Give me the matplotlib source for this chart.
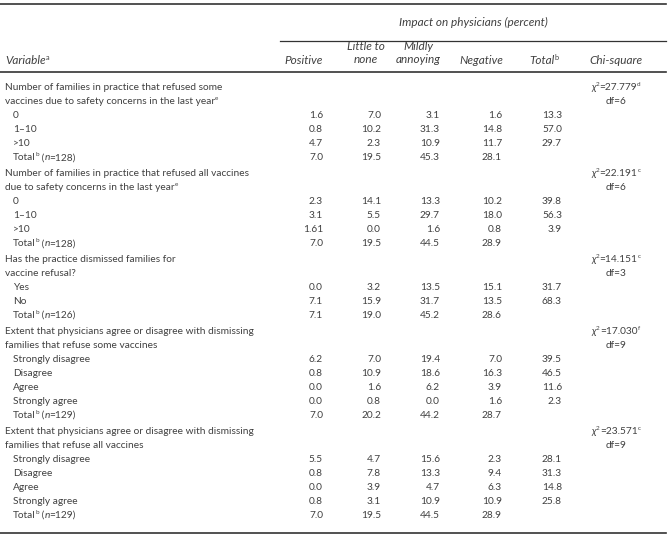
import matplotlib
matplotlib.use("Agg")
import matplotlib.pyplot as plt

# === Police ===
plt.rcParams["font.family"] = ["Lato", "DejaVu Sans"]

TXT = "#404040"
FS = 7.3
FS_HEAD = 8.5
FS_SUP = 4.6

# === Données ===
groupes = ["Positive", "Little to\nnone", "Mildly\nannoying", "Negative"]

titre1 = ["Number of families in practice that refused some",
          "vaccines due to safety concerns in the last year"]
lignes1 = ["0", "1–10", ">10", "Total"]
n1 = 128
pos1 = [1.6, 0.8, 4.7, 7.0]
peu1 = [7.0, 10.2, 2.3, 19.5]
agace1 = [3.1, 31.3, 10.9, 45.3]
neg1 = [1.6, 14.8, 11.7, 28.1]
tot1 = [13.3, 57.0, 29.7, None]
chi1 = ["27.779", "d", "6"]

titre2 = ["Number of families in practice that refused all vaccines",
          "due to safety concerns in the last year"]
lignes2 = ["0", "1–10", ">10", "Total"]
n2 = 128
pos2 = [2.3, 3.1, 1.61, 7.0]
peu2 = [14.1, 5.5, 0.0, 19.5]
agace2 = [13.3, 29.7, 1.6, 44.5]
neg2 = [10.2, 18.0, 0.8, 28.9]
tot2 = [39.8, 56.3, 3.9, None]
chi2 = ["22.191", "c", "6"]

titre3 = ["Has the practice dismissed families for",
          "vaccine refusal?"]
lignes3 = ["Yes", "No", "Total"]
n3 = 126
pos3 = [0.0, 7.1, 7.1]
peu3 = [3.2, 15.9, 19.0]
agace3 = [13.5, 31.7, 45.2]
neg3 = [15.1, 13.5, 28.6]
tot3 = [31.7, 68.3, None]
chi3 = ["14.151", "c", "3"]

echelle = ["Strongly disagree", "Disagree", "Agree", "Strongly agree", "Total"]

titre4 = ["Extent that physicians agree or disagree with dismissing",
          "families that refuse some vaccines"]
n4 = 129
pos4 = [6.2, 0.8, 0.0, 0.0, 7.0]
peu4 = [7.0, 10.9, 1.6, 0.8, 20.2]
agace4 = [19.4, 18.6, 6.2, 0.0, 44.2]
neg4 = [7.0, 16.3, 3.9, 1.6, 28.7]
tot4 = [39.5, 46.5, 11.6, 2.3, None]
chi4 = ["17.030", "f", "9"]

titre5 = ["Extent that physicians agree or disagree with dismissing",
          "families that refuse all vaccines"]
n5 = 129
pos5 = [5.5, 0.8, 0.0, 0.8, 7.0]
peu5 = [4.7, 7.8, 3.9, 3.1, 19.5]
agace5 = [15.6, 13.3, 4.7, 10.9, 44.5]
neg5 = [2.3, 9.4, 6.3, 10.9, 28.9]
tot5 = [28.1, 31.3, 14.8, 25.8, None]
chi5 = ["23.571", "c", "9"]

sections = [
    (titre1, True, lignes1, n1, [pos1, peu1, agace1, neg1, tot1], chi1),
    (titre2, True, lignes2, n2, [pos2, peu2, agace2, neg2, tot2], chi2),
    (titre3, False, lignes3, n3, [pos3, peu3, agace3, neg3, tot3], chi3),
    (titre4, False, echelle, n4, [pos4, peu4, agace4, neg4, tot4], chi4),
    (titre5, False, echelle, n5, [pos5, peu5, agace5, neg5, tot5], chi5),
]

# === Mise en page (pixels) ===
W, H = 670, 544
X_COLS = [323, 381, 440, 502, 562]     # bord droit des nombres
X_HEAD = [304, 366, 418, 481, 544]     # centre des en-tetes
X_CHI = 616
Y0 = 88
PAS = 14.0
GAP = 1.75

fig = plt.figure(figsize=(W / 100, H / 100), dpi=100)
ax = fig.add_axes([0, 0, 1, 1])
ax.set_xlim(0, W)
ax.set_ylim(H, 0)
ax.axis("off")
rend = fig.canvas.get_renderer()

def txt(x, y, s, ha="left", fs=FS, **kw):
    return ax.text(x, y, s, ha=ha, va="center", fontsize=fs, color=TXT, **kw)

def largeur(t):
    return t.get_window_extent(rend).width  # 1 px = 1 unite

# morceaux : (texte, style, exposant)
def riche(x, y, morceaux, ha="left", fs=FS):
    objs = []
    cx = x
    for s, st, sup in morceaux:
        if sup:
            t = ax.text(cx + 0.2, y - 3, s, ha="left", va="center",
                        fontsize=FS_SUP * fs / FS, color=TXT, style=st)
            cx += largeur(t) + 0.6
        else:
            t = ax.text(cx, y, s, ha="left", va="center",
                        fontsize=fs, color=TXT, style=st)
            cx += largeur(t) - 0.4
        objs.append(t)
    if ha == "center":
        dx = (cx - x) / 2
        for t in objs:
            px, py = t.get_position()
            t.set_position((px - dx, py))

# filets
ax.plot([0, 666], [4, 4], color="#333333", lw=1.2)
ax.plot([280, 666], [41, 41], color="#333333", lw=0.9)
ax.plot([0, 666], [72, 72], color="#333333", lw=1.2)
ax.plot([0, 666], [533, 533], color="#333333", lw=1.2)

# en-tetes
txt(473, 22, "Impact on physicians (percent)", ha="center", fs=FS_HEAD, style="italic")
riche(5, 60, [("Variable", "italic", False), ("a", "normal", True)], fs=FS_HEAD)
for xh, g in zip(X_HEAD, groupes):
    txt(xh, 53 if "\n" in g else 60, g, ha="center", fs=FS_HEAD,
        style="italic", linespacing=1.15)
riche(X_HEAD[4], 60, [("Total", "italic", False), ("b", "normal", True)],
      ha="center", fs=FS_HEAD)
txt(X_CHI, 60, "Chi-square", ha="center", fs=FS_HEAD, style="italic")

# corps
y = Y0
for titre, note_e, lignes, n, cols, chi in sections:
    riche(X_CHI, y, [("χ", "italic", False), ("2", "normal", True),
                     ("=" + chi[0], "normal", False), (chi[1], "normal", True)],
          ha="center")
    txt(X_CHI, y + PAS, "df=" + chi[2], ha="center")
    for k, t in enumerate(titre):
        if note_e and k == len(titre) - 1:
            riche(5, y, [(t, "normal", False), ("e", "normal", True)])
        else:
            txt(5, y, t)
        y += PAS
    for i, lab in enumerate(lignes):
        if lab == "Total":
            riche(13, y, [("Total", "normal", False), ("b", "normal", True),
                          (" (", "normal", False), ("n", "italic", False),
                          ("=" + str(n) + ")", "normal", False)])
        else:
            txt(13, y, lab)
        for xc, col in zip(X_COLS, cols):
            if col[i] is not None:
                txt(xc, y, str(col[i]), ha="right")
        y += PAS
    y += GAP

fig.savefig("out.png", dpi=100)
